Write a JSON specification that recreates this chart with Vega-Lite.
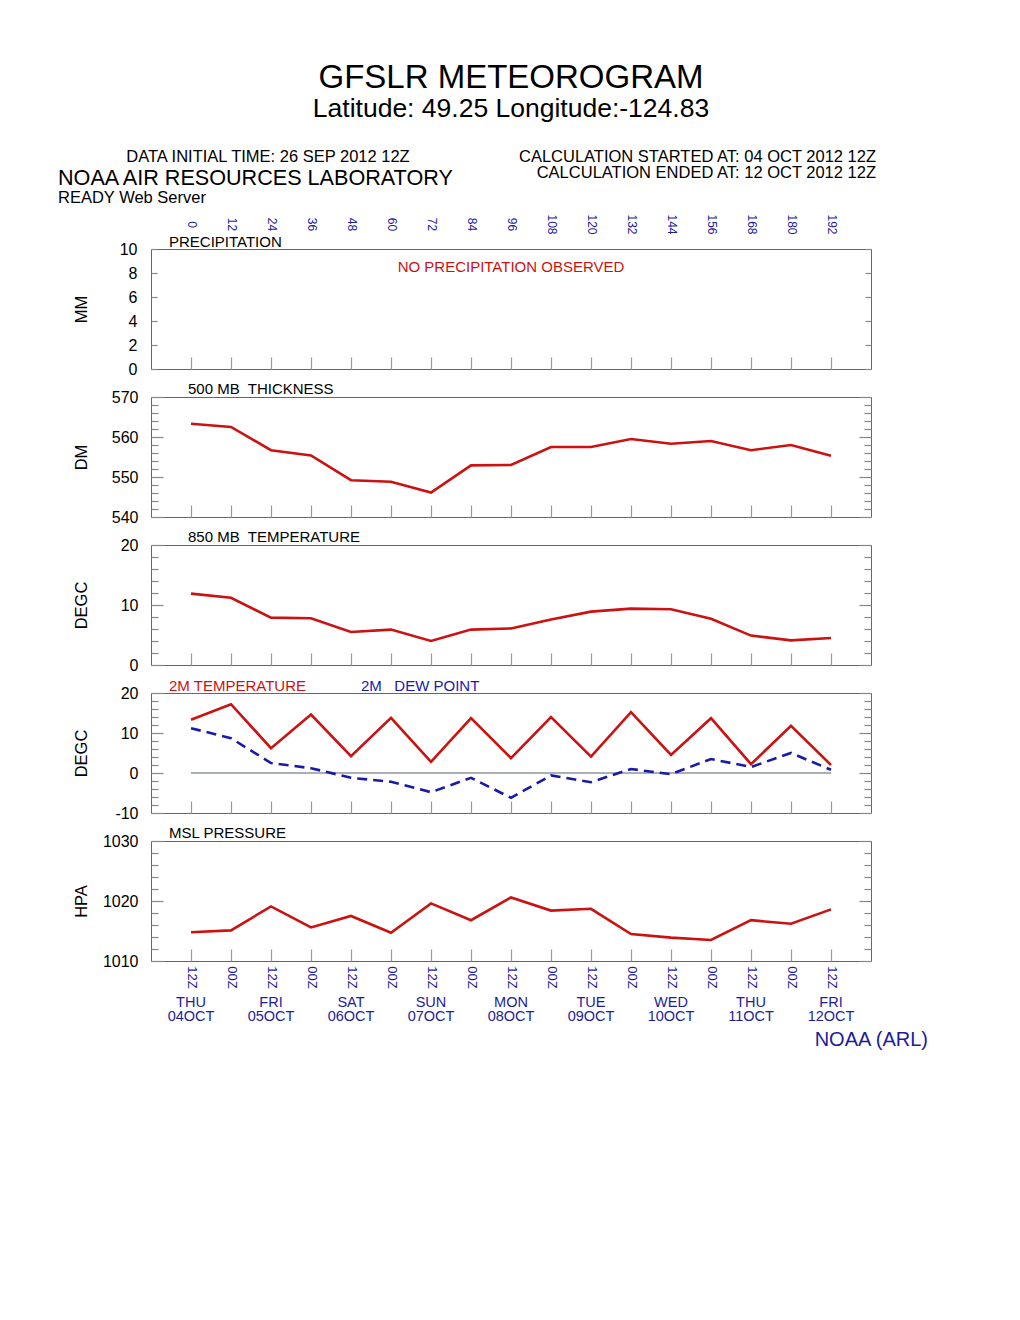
{
"$schema": "https://vega.github.io/schema/vega-lite/v6.json",
"background": "white",
"padding": {"left": 57, "top": 61, "right": 10, "bottom": 10},
"bounds": "flush",
"spacing": 28,
"config": {
  "font": "Liberation Sans",
  "view": {"stroke": "#666", "strokeWidth": 1},
  "axis": {"domain": false, "grid": false, "labelFont": "Liberation Sans", "labelFontSize": 16, "labelColor": "#000", "titleFont": "Liberation Sans", "titleFontSize": 16.5, "titleFontWeight": "normal", "titleColor": "#000", "tickColor": "#888", "tickWidth": 1.2, "labelFlush": false, "labelOverlap": false},
  "text": {"font": "Liberation Sans"}
},
"datasets": {
  "met": [
    {"h": 0, "thick": 563.3, "t850": 11.9, "t2m": 13.3, "dew": 11.2, "slp": 1014.8},
    {"h": 12, "thick": 562.5, "t850": 11.2, "t2m": 17.2, "dew": 8.7, "slp": 1015.1},
    {"h": 24, "thick": 556.7, "t850": 7.9, "t2m": 6.2, "dew": 2.5, "slp": 1019.1},
    {"h": 36, "thick": 555.4, "t850": 7.8, "t2m": 14.6, "dew": 1.2, "slp": 1015.6},
    {"h": 48, "thick": 549.2, "t850": 5.5, "t2m": 4.2, "dew": -1.2, "slp": 1017.5},
    {"h": 60, "thick": 548.8, "t850": 5.9, "t2m": 13.8, "dew": -2.2, "slp": 1014.7},
    {"h": 72, "thick": 546.1, "t850": 4.0, "t2m": 2.8, "dew": -4.8, "slp": 1019.6},
    {"h": 84, "thick": 552.9, "t850": 5.9, "t2m": 13.7, "dew": -1.2, "slp": 1016.8},
    {"h": 96, "thick": 553.0, "t850": 6.1, "t2m": 3.7, "dew": -6.2, "slp": 1020.6},
    {"h": 108, "thick": 557.5, "t850": 7.6, "t2m": 14.0, "dew": -0.6, "slp": 1018.4},
    {"h": 120, "thick": 557.5, "t850": 8.9, "t2m": 4.1, "dew": -2.3, "slp": 1018.7},
    {"h": 132, "thick": 559.5, "t850": 9.4, "t2m": 15.2, "dew": 1.0, "slp": 1014.5},
    {"h": 144, "thick": 558.3, "t850": 9.3, "t2m": 4.5, "dew": -0.3, "slp": 1013.9},
    {"h": 156, "thick": 559.0, "t850": 7.7, "t2m": 13.7, "dew": 3.5, "slp": 1013.5},
    {"h": 168, "thick": 556.7, "t850": 4.9, "t2m": 2.2, "dew": 1.5, "slp": 1016.8},
    {"h": 180, "thick": 558.0, "t850": 4.1, "t2m": 11.8, "dew": 5.0, "slp": 1016.2},
    {"h": 192, "thick": 555.3, "t850": 4.5, "t2m": 2.0, "dew": 0.8, "slp": 1018.6}
  ],
  "days": [
    {"h": 0, "lbl": "THU\n04OCT"},
    {"h": 24, "lbl": "FRI\n05OCT"},
    {"h": 48, "lbl": "SAT\n06OCT"},
    {"h": 72, "lbl": "SUN\n07OCT"},
    {"h": 96, "lbl": "MON\n08OCT"},
    {"h": 120, "lbl": "TUE\n09OCT"},
    {"h": 144, "lbl": "WED\n10OCT"},
    {"h": 168, "lbl": "THU\n11OCT"},
    {"h": 192, "lbl": "FRI\n12OCT"}
  ],
  "one": [{}]
},
"vconcat": [
  {
    "width": 720, "height": 120,
    "resolve": {"axis": {"x": "independent", "y": "independent"}},
    "layer": [
      {
        "data": {"name": "one"},
        "mark": {"type": "text", "align": "center", "baseline": "middle", "fontSize": 15, "color": "#cc1111"},
        "encoding": {
          "x": {"datum": 96, "type": "quantitative", "scale": {"domain": [-12, 204], "nice": false, "zero": false},
                "axis": {"orient": "top", "values": [0,12,24,36,48,60,72,84,96,108,120,132,144,156,168,180,192], "ticks": false, "tickSize": 0, "labelAngle": 90, "labelAlign": "center", "labelBaseline": "middle", "labelPadding": 25, "labelColor": "#1c1c9c", "labelFontSize": 12, "title": null}},
          "y": {"datum": 8.5, "type": "quantitative", "scale": {"domain": [0, 10], "nice": false, "zero": false},
                "axis": {"orient": "left", "values": [0,2,4,6,8,10], "labelExpr": "'' + datum.value", "tickSize": -6, "labelPadding": 20, "title": "MM", "titleX": -70, "titleY": 60, "titleAngle": -90, "titleAlign": "center", "titleBaseline": "middle"}},
          "text": {"value": "NO PRECIPITATION OBSERVED"}
        }
      },
      {
        "data": {"name": "one"},
        "mark": {"type": "point", "opacity": 0},
        "encoding": {
          "x": {"datum": 96, "type": "quantitative", "scale": {"domain": [-12, 204], "nice": false, "zero": false},
                "axis": {"orient": "bottom", "values": [0,12,24,36,48,60,72,84,96,108,120,132,144,156,168,180,192], "labels": false, "tickSize": -12, "tickColor": "#999", "title": null}},
          "y": {"datum": 5, "type": "quantitative", "scale": {"domain": [0, 10], "nice": false, "zero": false},
                "axis": {"orient": "right", "values": [0,2,4,6,8,10], "labels": false, "tickSize": -6, "title": null}}
        }
      },
      {
        "data": {"name": "one"},
        "mark": {"type": "text", "align": "left", "baseline": "middle", "fontSize": 15, "color": "#000"},
        "encoding": {
          "x": {"datum": -6.6, "type": "quantitative", "axis": null},
          "y": {"datum": 10.58, "type": "quantitative", "axis": null},
          "text": {"value": "PRECIPITATION"}
        }
      },
      {
        "data": {"name": "one"},
        "mark": {"type": "text", "align": "center", "baseline": "middle", "fontSize": 33, "color": "#000"},
        "encoding": {
          "x": {"datum": 96, "type": "quantitative", "axis": null},
          "y": {"datum": 24.25, "type": "quantitative", "axis": null},
          "text": {"value": "GFSLR METEOROGRAM"}
        }
      },
      {
        "data": {"name": "one"},
        "mark": {"type": "text", "align": "center", "baseline": "middle", "fontSize": 26.5, "color": "#000"},
        "encoding": {
          "x": {"datum": 96, "type": "quantitative", "axis": null},
          "y": {"datum": 21.67, "type": "quantitative", "axis": null},
          "text": {"value": "Latitude: 49.25 Longitude:-124.83"}
        }
      },
      {
        "data": {"name": "one"},
        "mark": {"type": "text", "align": "center", "baseline": "middle", "fontSize": 16.5, "color": "#000"},
        "encoding": {
          "x": {"datum": 23.1, "type": "quantitative", "axis": null},
          "y": {"datum": 17.67, "type": "quantitative", "axis": null},
          "text": {"value": "DATA INITIAL TIME: 26 SEP 2012 12Z"}
        }
      },
      {
        "data": {"name": "one"},
        "mark": {"type": "text", "align": "left", "baseline": "middle", "fontSize": 21.6, "color": "#000"},
        "encoding": {
          "x": {"datum": -39.9, "type": "quantitative", "axis": null},
          "y": {"datum": 15.83, "type": "quantitative", "axis": null},
          "text": {"value": "NOAA AIR RESOURCES LABORATORY"}
        }
      },
      {
        "data": {"name": "one"},
        "mark": {"type": "text", "align": "left", "baseline": "middle", "fontSize": 16.5, "color": "#000"},
        "encoding": {
          "x": {"datum": -39.9, "type": "quantitative", "axis": null},
          "y": {"datum": 14.21, "type": "quantitative", "axis": null},
          "text": {"value": "READY Web Server"}
        }
      },
      {
        "data": {"name": "one"},
        "mark": {"type": "text", "align": "right", "baseline": "middle", "fontSize": 16.5, "color": "#000"},
        "encoding": {
          "x": {"datum": 205.5, "type": "quantitative", "axis": null},
          "y": {"datum": 17.67, "type": "quantitative", "axis": null},
          "text": {"value": "CALCULATION STARTED AT: 04 OCT 2012 12Z"}
        }
      },
      {
        "data": {"name": "one"},
        "mark": {"type": "text", "align": "right", "baseline": "middle", "fontSize": 16.5, "color": "#000"},
        "encoding": {
          "x": {"datum": 205.5, "type": "quantitative", "axis": null},
          "y": {"datum": 16.33, "type": "quantitative", "axis": null},
          "text": {"value": "CALCULATION ENDED AT: 12 OCT 2012 12Z"}
        }
      }
    ]
  },
  {
    "width": 720, "height": 120,
    "resolve": {"axis": {"x": "independent", "y": "independent"}},
    "layer": [
      {
        "data": {"name": "met"},
        "mark": {"type": "line", "color": "#cc1111", "strokeWidth": 2.6},
        "encoding": {
          "x": {"field": "h", "type": "quantitative", "scale": {"domain": [-12, 204], "nice": false, "zero": false},
                "axis": {"orient": "bottom", "values": [0,12,24,36,48,60,72,84,96,108,120,132,144,156,168,180,192], "labels": false, "tickSize": -12, "tickColor": "#999", "title": null}},
          "y": {"field": "thick", "type": "quantitative", "scale": {"domain": [540, 570], "nice": false, "zero": false},
                "axis": {"orient": "left", "values": [540,542,544,546,548,550,552,554,556,558,560,562,564,566,568,570], "labelExpr": "datum.value % 10 === 0 ? '' + datum.value : ''", "tickSize": {"condition": {"test": "datum.value % 10 === 0", "value": -12}, "value": -7}, "labelPadding": 25, "title": "DM", "titleX": -70, "titleY": 60, "titleAngle": -90, "titleAlign": "center", "titleBaseline": "middle"}}
        }
      },
      {
        "data": {"name": "one"},
        "mark": {"type": "point", "opacity": 0},
        "encoding": {
          "y": {"datum": 555, "type": "quantitative", "scale": {"domain": [540, 570], "nice": false, "zero": false},
                "axis": {"orient": "right", "values": [540,542,544,546,548,550,552,554,556,558,560,562,564,566,568,570], "labels": false, "tickSize": {"condition": {"test": "datum.value % 10 === 0", "value": -12}, "value": -7}, "title": null}}
        }
      },
      {
        "data": {"name": "one"},
        "mark": {"type": "text", "align": "left", "baseline": "middle", "fontSize": 15, "color": "#000"},
        "encoding": {
          "x": {"datum": -0.9, "type": "quantitative", "axis": null},
          "y": {"datum": 572, "type": "quantitative", "axis": null},
          "text": {"value": "500 MB\u00a0 THICKNESS"}
        }
      }
    ]
  },
  {
    "width": 720, "height": 120,
    "resolve": {"axis": {"x": "independent", "y": "independent"}},
    "layer": [
      {
        "data": {"name": "met"},
        "mark": {"type": "line", "color": "#cc1111", "strokeWidth": 2.6},
        "encoding": {
          "x": {"field": "h", "type": "quantitative", "scale": {"domain": [-12, 204], "nice": false, "zero": false},
                "axis": {"orient": "bottom", "values": [0,12,24,36,48,60,72,84,96,108,120,132,144,156,168,180,192], "labels": false, "tickSize": -12, "tickColor": "#999", "title": null}},
          "y": {"field": "t850", "type": "quantitative", "scale": {"domain": [0, 20], "nice": false, "zero": false},
                "axis": {"orient": "left", "values": [0,2,4,6,8,10,12,14,16,18,20], "labelExpr": "datum.value % 10 === 0 ? '' + datum.value : ''", "tickSize": {"condition": {"test": "datum.value % 10 === 0", "value": -12}, "value": -7}, "labelPadding": 25, "title": "DEGC", "titleX": -70, "titleY": 60, "titleAngle": -90, "titleAlign": "center", "titleBaseline": "middle"}}
        }
      },
      {
        "data": {"name": "one"},
        "mark": {"type": "point", "opacity": 0},
        "encoding": {
          "y": {"datum": 10, "type": "quantitative", "scale": {"domain": [0, 20], "nice": false, "zero": false},
                "axis": {"orient": "right", "values": [0,2,4,6,8,10,12,14,16,18,20], "labels": false, "tickSize": {"condition": {"test": "datum.value % 10 === 0", "value": -12}, "value": -7}, "title": null}}
        }
      },
      {
        "data": {"name": "one"},
        "mark": {"type": "text", "align": "left", "baseline": "middle", "fontSize": 15, "color": "#000"},
        "encoding": {
          "x": {"datum": -0.9, "type": "quantitative", "axis": null},
          "y": {"datum": 21.33, "type": "quantitative", "axis": null},
          "text": {"value": "850 MB\u00a0 TEMPERATURE"}
        }
      }
    ]
  },
  {
    "width": 720, "height": 120,
    "resolve": {"axis": {"x": "independent", "y": "independent"}},
    "layer": [
      {
        "data": {"name": "one"},
        "mark": {"type": "rule", "color": "#556070", "strokeWidth": 1},
        "encoding": {
          "x": {"datum": 0, "type": "quantitative", "scale": {"domain": [-12, 204], "nice": false, "zero": false}, "axis": null},
          "x2": {"datum": 192},
          "y": {"datum": 0, "type": "quantitative", "scale": {"domain": [-10, 20], "nice": false, "zero": false}, "axis": null}
        }
      },
      {
        "data": {"name": "met"},
        "mark": {"type": "line", "color": "#cc1111", "strokeWidth": 2.6},
        "encoding": {
          "x": {"field": "h", "type": "quantitative", "scale": {"domain": [-12, 204], "nice": false, "zero": false},
                "axis": {"orient": "bottom", "values": [0,12,24,36,48,60,72,84,96,108,120,132,144,156,168,180,192], "labels": false, "tickSize": -12, "tickColor": "#999", "title": null}},
          "y": {"field": "t2m", "type": "quantitative", "scale": {"domain": [-10, 20], "nice": false, "zero": false},
                "axis": {"orient": "left", "values": [-10,-8,-6,-4,-2,0,2,4,6,8,10,12,14,16,18,20], "labelExpr": "datum.value % 10 === 0 ? '' + datum.value : ''", "tickSize": {"condition": {"test": "datum.value % 10 === 0", "value": -12}, "value": -7}, "labelPadding": 25, "title": "DEGC", "titleX": -70, "titleY": 60, "titleAngle": -90, "titleAlign": "center", "titleBaseline": "middle"}}
        }
      },
      {
        "data": {"name": "met"},
        "mark": {"type": "line", "color": "#1a1aaa", "strokeWidth": 2.6, "strokeDash": [10, 6]},
        "encoding": {
          "x": {"field": "h", "type": "quantitative", "axis": null},
          "y": {"field": "dew", "type": "quantitative", "axis": null}
        }
      },
      {
        "data": {"name": "one"},
        "mark": {"type": "point", "opacity": 0},
        "encoding": {
          "y": {"datum": 5, "type": "quantitative", "scale": {"domain": [-10, 20], "nice": false, "zero": false},
                "axis": {"orient": "right", "values": [-10,-8,-6,-4,-2,0,2,4,6,8,10,12,14,16,18,20], "labels": false, "tickSize": {"condition": {"test": "datum.value % 10 === 0", "value": -12}, "value": -7}, "title": null}}
        }
      },
      {
        "data": {"name": "one"},
        "mark": {"type": "text", "align": "left", "baseline": "middle", "fontSize": 15, "color": "#cc1111"},
        "encoding": {
          "x": {"datum": -6.6, "type": "quantitative", "axis": null},
          "y": {"datum": 21.75, "type": "quantitative", "axis": null},
          "text": {"value": "2M TEMPERATURE"}
        }
      },
      {
        "data": {"name": "one"},
        "mark": {"type": "text", "align": "left", "baseline": "middle", "fontSize": 15, "color": "#1a1aaa"},
        "encoding": {
          "x": {"datum": 51, "type": "quantitative", "axis": null},
          "y": {"datum": 21.75, "type": "quantitative", "axis": null},
          "text": {"value": "2M\u00a0\u00a0 DEW POINT"}
        }
      }
    ]
  },
  {
    "width": 720, "height": 120,
    "resolve": {"axis": {"x": "independent", "y": "independent"}},
    "layer": [
      {
        "data": {"name": "met"},
        "mark": {"type": "line", "color": "#cc1111", "strokeWidth": 2.6},
        "encoding": {
          "x": {"field": "h", "type": "quantitative", "scale": {"domain": [-12, 204], "nice": false, "zero": false},
                "axis": {"orient": "bottom", "values": [0,12,24,36,48,60,72,84,96,108,120,132,144,156,168,180,192], "tickSize": -12, "tickColor": "#999", "labelExpr": "datum.value % 24 === 0 ? '12Z' : '00Z'", "labelAngle": 90, "labelAlign": "center", "labelBaseline": "middle", "labelPadding": 28, "labelColor": "#1c1c9c", "labelFontSize": 13, "title": null}},
          "y": {"field": "slp", "type": "quantitative", "scale": {"domain": [1010, 1030], "nice": false, "zero": false},
                "axis": {"orient": "left", "values": [1010,1012,1014,1016,1018,1020,1022,1024,1026,1028,1030], "labelExpr": "datum.value % 10 === 0 ? '' + datum.value : ''", "tickSize": {"condition": {"test": "datum.value % 10 === 0", "value": -12}, "value": -7}, "labelPadding": 25, "title": "HPA", "titleX": -70, "titleY": 60, "titleAngle": -90, "titleAlign": "center", "titleBaseline": "middle"}}
        }
      },
      {
        "data": {"name": "one"},
        "mark": {"type": "point", "opacity": 0},
        "encoding": {
          "y": {"datum": 1020, "type": "quantitative", "scale": {"domain": [1010, 1030], "nice": false, "zero": false},
                "axis": {"orient": "right", "values": [1010,1012,1014,1016,1018,1020,1022,1024,1026,1028,1030], "labels": false, "tickSize": {"condition": {"test": "datum.value % 10 === 0", "value": -12}, "value": -7}, "title": null}}
        }
      },
      {
        "data": {"name": "one"},
        "mark": {"type": "text", "align": "left", "baseline": "middle", "fontSize": 15, "color": "#000"},
        "encoding": {
          "x": {"datum": -6.6, "type": "quantitative", "axis": null},
          "y": {"datum": 1031.33, "type": "quantitative", "axis": null},
          "text": {"value": "MSL PRESSURE"}
        }
      },
      {
        "data": {"name": "days"},
        "mark": {"type": "text", "align": "center", "baseline": "top", "fontSize": 14.5, "lineHeight": 14, "lineBreak": "\n", "color": "#1c1c9c"},
        "encoding": {
          "x": {"field": "h", "type": "quantitative", "axis": null},
          "y": {"datum": 1004.1, "type": "quantitative", "axis": null},
          "text": {"field": "lbl"}
        }
      },
      {
        "data": {"name": "one"},
        "mark": {"type": "text", "align": "right", "baseline": "middle", "fontSize": 20, "color": "#1c1c9c"},
        "encoding": {
          "x": {"datum": 221.1, "type": "quantitative", "axis": null},
          "y": {"datum": 996.8, "type": "quantitative", "axis": null},
          "text": {"value": "NOAA (ARL)"}
        }
      }
    ]
  }
]
}
